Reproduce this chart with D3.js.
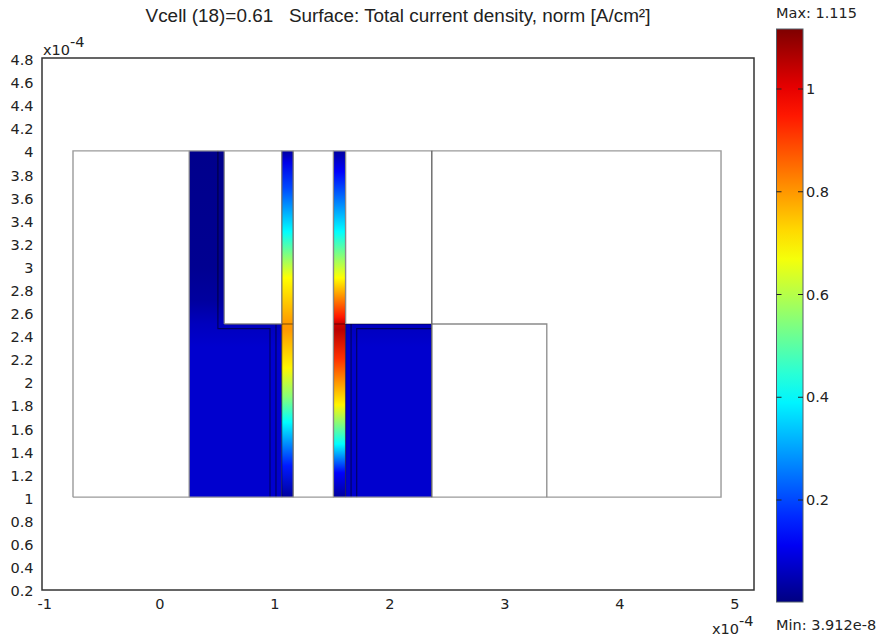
<!DOCTYPE html>
<html>
<head>
<meta charset="utf-8">
<script src="https://cdn.jsdelivr.net/npm/d3@7"></script>
<style>
html, body { margin: 0; padding: 0; background: #fff; }
svg { display: block; }
text { font-family: "DejaVu Sans", sans-serif; font-size: 14.5px; fill: #222; }
</style>
</head>
<body>
<div id="viz"></div>
<script>
var width = 877;
var height = 640;

var titleText = "Vcell (18)=0.61   Surface: Total current density, norm [A/cm\u00b2]";
var xTicks = [-1, 0, 1, 2, 3, 4, 5];
var yTicks = [0.2, 0.4, 0.6, 0.8, 1, 1.2, 1.4, 1.6, 1.8, 2, 2.2, 2.4, 2.6, 2.8, 3, 3.2, 3.4, 3.6, 3.8, 4, 4.2, 4.4, 4.6, 4.8];
var barTicks = [0.2, 0.4, 0.6, 0.8, 1];
var minValue = 3.912e-8;
var maxValue = 1.115;

// Outline of the geometry, x and y in 1e-4 units
var outerBox = [[-0.75, 1], [4.885, 1], [4.885, 4], [-0.75, 4], [-0.75, 1]];
var stepLine = [[2.37, 4], [2.37, 1]];
var shelfLine = [[2.37, 2.5], [3.37, 2.5], [3.37, 1]];

// Inner layer boundaries
var layerLines = [
    [[0.51, 4], [0.51, 2.46], [0.963, 2.46], [0.963, 1]],
    [[1.015, 2.5], [1.015, 1]],
    [[1.065, 4], [1.065, 1]],
    [[1.165, 4], [1.165, 1]],
    [[1.515, 4], [1.515, 1]],
    [[1.62, 4], [1.62, 1]],
    [[1.668, 2.5], [1.668, 1]],
    [[1.717, 1], [1.717, 2.46], [2.37, 2.46]],
    [[0.565, 2.5], [1.165, 2.5]],
    [[1.515, 2.5], [2.37, 2.5]]
];

// Current density along y for the coloured domains
var stripY = [4, 3.9, 3.68, 3.3, 2.9, 2.5, 2.45, 2.12, 1.87, 1.65, 1.27, 1];
var leftStrip = [0.03, 0.1, 0.2, 0.4, 0.68, 0.8, 0.8, 0.69, 0.55, 0.4, 0.15, 0.03];
var rightY = [4, 3.82, 3.3, 2.9, 2.56, 2.5, 2.45, 2.2, 1.8, 1.46, 1.21, 1];
var rightStrip = [0.03, 0.12, 0.4, 0.68, 0.95, 1.03, 1.05, 0.92, 0.69, 0.4, 0.12, 0.03];
var gdlY = [4, 3, 2.7, 2.5, 2.3, 1];
var gdlValues = [0.012, 0.016, 0.03, 0.06, 0.075, 0.075];

var jetStops = [0, 0.11, 0.36, 0.61, 0.875, 1];
var jetColors = ["#000080", "#0000ff", "#00ffff", "#ffff00", "#ff0000", "#800000"];

var x = d3.scaleLinear().domain([-1, 5]).range([44.25, 734.25]);
var y = d3.scaleLinear().domain([0.2, 4.8]).range([589.5, 58.5]);
var barY = d3.scaleLinear().domain([0.2, 1]).range([500, 89]);

var jet = d3.scaleLinear()
    .domain(jetStops.map(function(d) { return d * maxValue; }))
    .range(jetColors);

var plot = { left: 42, right: 754, top: 58, bottom: 590 };
var bar = { left: 776.5, right: 803, top: 29, bottom: 602 };

var svg = d3.select("#viz").append("svg")
    .attr("width", width)
    .attr("height", height)
    .attr("viewBox", "0 0 " + width + " " + height);

var defs = svg.append("defs");

// vertical gradient in user space so all pieces of a domain line up
function addGradient(id, ys, values, scale) {
    var grad = defs.append("linearGradient")
        .attr("id", id)
        .attr("gradientUnits", "userSpaceOnUse")
        .attr("x1", 0).attr("x2", 0)
        .attr("y1", scale(ys[0]))
        .attr("y2", scale(ys[ys.length - 1]));
    var top = scale(ys[0]), span = scale(ys[ys.length - 1]) - top;
    grad.selectAll("stop")
        .data(ys)
        .enter().append("stop")
        .attr("offset", function(d) { return (scale(d) - top) / span; })
        .attr("stop-color", function(d, i) { return jet(values[i]); });
}

addGradient("gLeft", stripY, leftStrip, y);
addGradient("gRight", rightY, rightStrip, y);
addGradient("gGdl", gdlY, gdlValues, y);

var barLevels = d3.range(0, 21).map(function(i) { return maxValue * (20 - i) / 20; });
addGradient("gBar", barLevels, barLevels, barY);

// coloured domains: x0, x1, y0, y1, gradient
var domains = [
    [0.26, 0.565, 2.5, 4, "gGdl"],
    [0.26, 1.065, 1, 2.5, "gGdl"],
    [1.065, 1.165, 1, 4, "gLeft"],
    [1.515, 1.62, 1, 4, "gRight"],
    [1.62, 2.37, 1, 2.5, "gGdl"]
];

svg.append("g").selectAll("rect")
    .data(domains)
    .enter().append("rect")
    .attr("x", function(d) { return x(d[0]); })
    .attr("width", function(d) { return x(d[1]) - x(d[0]); })
    .attr("y", function(d) { return y(d[3]); })
    .attr("height", function(d) { return y(d[2]) - y(d[3]); })
    .attr("fill", function(d) { return "url(#" + d[4] + ")"; });

var line = d3.line()
    .x(function(d) { return x(d[0]); })
    .y(function(d) { return y(d[1]); });

svg.append("g").selectAll("path")
    .data(layerLines)
    .enter().append("path")
    .attr("d", line)
    .attr("fill", "none")
    .attr("stroke", "#000")
    .attr("stroke-opacity", 0.5)
    .attr("stroke-width", 1.2);

// grey edges of the coloured domains
var edges = [
    [[0.26, 1], [0.26, 4]],
    [[0.565, 4], [0.565, 2.5]],
    [[1.065, 4], [1.065, 2.5]],
    [[1.165, 1], [1.165, 4]],
    [[1.515, 1], [1.515, 4]],
    [[1.62, 4], [1.62, 2.5]],
    [[0.565, 2.5], [1.065, 2.5]]
];

svg.append("g").selectAll("path")
    .data(edges)
    .enter().append("path")
    .attr("d", line)
    .attr("fill", "none")
    .attr("stroke", "#8a8a8a")
    .attr("stroke-width", 1.2);

svg.append("path")
    .attr("d", line(outerBox))
    .attr("fill", "none")
    .attr("stroke", "#9a9a9a")
    .attr("stroke-width", 1.4);

svg.append("path")
    .attr("d", line(shelfLine))
    .attr("fill", "none")
    .attr("stroke", "#8a8a8a")
    .attr("stroke-width", 1.3);

svg.append("path")
    .attr("d", line(stepLine))
    .attr("fill", "none")
    .attr("stroke", "#666")
    .attr("stroke-width", 1.4);

// frame
svg.append("rect")
    .attr("x", plot.left)
    .attr("y", plot.top)
    .attr("width", plot.right - plot.left)
    .attr("height", plot.bottom - plot.top)
    .attr("fill", "none")
    .attr("stroke", "#333")
    .attr("stroke-width", 1.5);

function tickFormat(d) { return String(d); }

var xAxis = svg.append("g")
    .attr("transform", "translate(0," + plot.bottom + ")")
    .call(d3.axisBottom(x).tickValues(xTicks).tickSize(0).tickPadding(9).tickFormat(tickFormat));
xAxis.select(".domain").remove();

var yAxis = svg.append("g")
    .attr("transform", "translate(" + (plot.left - 8.5) + ",1.5)")
    .call(d3.axisLeft(y).tickValues(yTicks).tickSize(0).tickPadding(0).tickFormat(tickFormat));
yAxis.select(".domain").remove();

svg.selectAll(".tick text")
    .style("font-family", '"DejaVu Sans", sans-serif')
    .style("font-size", "14.5px")
    .style("fill", "#222");

// exponent labels
function exponent(xPos, yPos) {
    var t = svg.append("text").attr("x", xPos).attr("y", yPos);
    t.append("tspan").text("x10");
    t.append("tspan").attr("dy", -8).text("-4");
}
exponent(43, 55);
exponent(712, 634);

svg.append("text")
    .attr("x", 398)
    .attr("y", 22)
    .attr("text-anchor", "middle")
    .style("font-family", '"Liberation Sans", sans-serif')
    .style("font-size", "18.9px")
    .style("white-space", "pre")
    .text(titleText);

// colour bar
svg.append("rect")
    .attr("x", bar.left)
    .attr("y", bar.top)
    .attr("width", bar.right - bar.left)
    .attr("height", bar.bottom - bar.top)
    .attr("fill", "url(#gBar)")
    .attr("stroke", "#55606a")
    .attr("stroke-width", 1);

var barTick = svg.append("g").selectAll("g")
    .data(barTicks)
    .enter().append("g")
    .attr("transform", function(d) { return "translate(0," + barY(d) + ")"; });

barTick.append("line")
    .attr("x1", bar.left).attr("x2", bar.left + 5)
    .attr("stroke", "#222").attr("stroke-width", 1);
barTick.append("line")
    .attr("x1", bar.right - 5).attr("x2", bar.right)
    .attr("stroke", "#222").attr("stroke-width", 1);
barTick.append("text")
    .attr("x", bar.right + 3)
    .attr("dy", "0.36em")
    .text(tickFormat);

svg.append("text").attr("x", 776).attr("y", 18).text("Max: " + maxValue);
svg.append("text").attr("x", 776).attr("y", 630).text("Min: " + d3.format(".3e")(minValue));
</script>
</body>
</html>
